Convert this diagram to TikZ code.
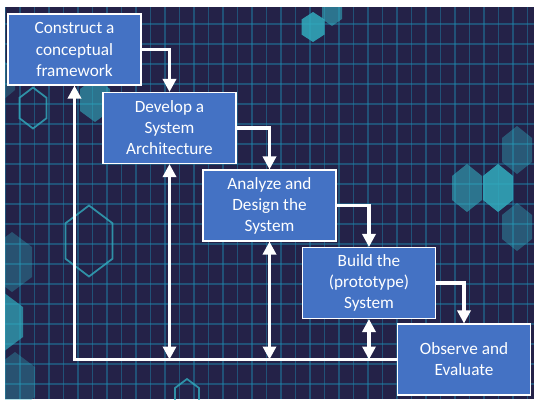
\documentclass[tikz,border=0pt]{standalone}
\usepackage{fontspec}
\setmainfont{Carlito}
\usetikzlibrary{arrows.meta}
\definecolor{boxblue}{RGB}{68,114,196}
\definecolor{navy}{RGB}{36,34,72}
\definecolor{gridteal}{RGB}{30,140,178}
\definecolor{hexteal}{RGB}{50,172,190}

\begin{document}
\begin{tikzpicture}[x=0.02cm, y=-0.02cm,
    every node/.style={draw=white, line width=0.6pt, fill=boxblue, text=white,
      minimum width=2.66cm, minimum height=1.42cm, inner sep=0pt, align=center,
      font=\fontsize{9.8}{12}\selectfont},
    flow/.style={draw=white, line width=2.1pt, -{Triangle[length=2.6mm, width=2.6mm]}},
    twoway/.style={flow, {Triangle[length=2.6mm, width=2.6mm]}-{Triangle[length=2.6mm, width=2.6mm]}}]
  \useasboundingbox (0,0) rectangle (534,399);

  % Background grid
  \fill[navy] (5,7) rectangle (534,399);
  \begin{scope}
    \clip (5,7) rectangle (534,399);
    \foreach \x in {0,...,36}
      \draw[gridteal, line width=1pt, opacity=0.45] ({5.5+14.5*\x},7) -- ({5.5+14.5*\x},399);
    \foreach \y in {0,...,19}
      \draw[gridteal, line width=1pt, opacity=0.45] (5,{24+20*\y}) -- (534,{24+20*\y});

    % Hexagons
    \foreach \cx/\cy/\w/\h/\op in {313/27/11.5/15/0.85, 332/12/10/14/0.6,
        467/188/15/24/0.6, 498/188/15/24/0.85, 517/150/15/24/0.4, 517/227/15/24/0.4,
        12/262/20/30/0.35, 3/322/20/30/0.7, 15/382/20/30/0.35,
        95/100/15/22/0.6, 3/80/12/20/0.3}
      \fill[hexteal, opacity=\op] ({\cx},{\cy-\h}) -- ({\cx+\w},{\cy-\h/2}) -- ({\cx+\w},{\cy+\h/2})
        -- ({\cx},{\cy+\h}) -- ({\cx-\w},{\cy+\h/2}) -- ({\cx-\w},{\cy-\h/2}) -- cycle;
    \foreach \cx/\cy/\w/\h in {33/108/13.5/20.5, 89/241/23.5/35.5, 187/397/12/18}
      \draw[hexteal, line width=1pt, opacity=0.8] ({\cx},{\cy-\h}) -- ({\cx+\w},{\cy-\h/2}) -- ({\cx+\w},{\cy+\h/2})
        -- ({\cx},{\cy+\h}) -- ({\cx-\w},{\cy+\h/2}) -- ({\cx-\w},{\cy-\h/2}) -- cycle;
  \end{scope}

  % Steps
  \node (1) at (74.5,49.5)  {Construct a\\conceptual\\framework};
  \node (2) at (169.5,128)  {Develop a\\System\\Architecture};
  \node (3) at (269.5,205.5) {Analyze and\\Design the\\System};
  \node (4) at (369,283)    {Build the\\(prototype)\\System};
  \node (5) at (464,359.5)  {Observe and\\Evaluate};

  \draw[flow] (1.east) -| (2.north);
  \draw[flow] (2.east) -| (3.north);
  \draw[flow] (3.east) -| (4.north);
  \draw[flow] (4.east) -| (5.north);

  % Feedback
  \draw[flow] (5.west) -| (1.south);
  \coordinate (j2) at (2.south |- 5.west);
  \coordinate (j3) at (3.south |- 5.west);
  \coordinate (j4) at (4.south |- 5.west);
  \draw[twoway] (2.south) -- (j2);
  \draw[twoway] (3.south) -- (j3);
  \draw[twoway] (4.south) -- (j4);
\end{tikzpicture}
\end{document}
